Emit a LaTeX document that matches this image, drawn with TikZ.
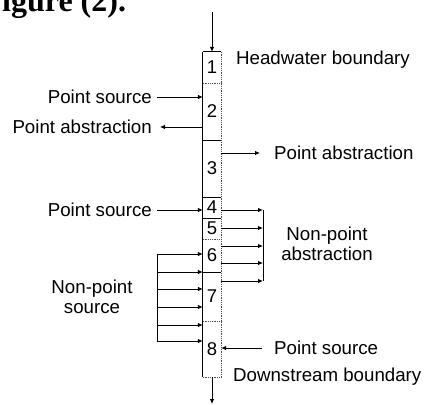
\documentclass[tikz,border=0pt]{standalone}
\usepackage{fontspec}
\setmainfont{Liberation Sans}
\newfontfamily\headfont{Liberation Serif}
\usetikzlibrary{arrows.meta}
\tikzset{
  lbl/.style={inner xsep=5pt,inner ysep=1pt,font=\fontsize{18.7}{20}\selectfont},
  cell/.style={minimum width=18pt,inner sep=0pt,font=\fontsize{18.5}{20}\selectfont},
  arr/.style={-{Latex[length=5pt,width=4.5pt]},line width=0.8pt},
  ln/.style={line width=0.8pt},
  sep/.style={line width=0.8pt,densely dotted,black!70}
}

\begin{document}
\begin{tikzpicture}[x=1pt,y=-1pt]
  \useasboundingbox (0,0) rectangle (424,405);
  \node[anchor=base west,inner sep=0pt,font=\headfont\bfseries\fontsize{32}{34}\selectfont] at(2,11)(fig){igure (2).};

  \node[cell,minimum height=31pt] at(212,67.5)(c1){1};
  \node[cell,minimum height=57pt] at(212,111.5)(c2){2};
  \node[cell,minimum height=57pt] at(212,168.5)(c3){3};
  \node[cell,minimum height=21pt] at(212,207.5)(c4){4};
  \node[cell,minimum height=21pt] at(212,228.5)(c5){5};
  \node[cell,minimum height=33pt] at(212,255.5)(c6){6};
  \node[cell,minimum height=49pt] at(212,296.5)(c7){7};
  \node[cell,minimum height=56pt] at(212,349)(c8){8};

  \draw [ln](c1.north west) -- (c8.south west);
  \draw [sep](c1.north east) -- (c8.south east);
  \draw [ln](c1.north west) -- (c1.north east);
  \draw [sep](c8.south west) -- (c8.south east);
  \draw [sep](c1.south west) -- (c1.south east);
  \draw [ln](c2.south west) -- (c2.south east);
  \draw [ln](c3.south west) -- (c3.south east);
  \draw [ln](c4.south west) -- (c4.south east);
  \draw [sep](c5.south west) -- (c5.south east);
  \draw [ln](c6.south west) -- (c6.south east);
  \draw [sep](c7.south west) -- (c7.south east);

  \coordinate (top) at (212,12);
  \coordinate (bot) at (212,404);
  \draw [arr](top) -- (c1.north);
  \draw [arr](c8.south) -- (bot);

  \node[lbl,anchor=west] at(231,60)(hw){Headwater boundary};
  \node[lbl,anchor=east] at(157,97)(ps1){Point source};
  \node[lbl,anchor=east] at(157,127)(pa1){Point abstraction};
  \node[lbl,anchor=west] at(269,153)(pa2){Point abstraction};
  \node[lbl,anchor=east] at(157,210)(ps2){Point source};
  \node[lbl,anchor=west] at(269,348)(ps3){Point source};
  \node[lbl,anchor=west] at(228,377)(ds){Downstream boundary};
  \node[lbl,align=center] at(327,244)(npa){Non-point\\abstraction};
  \node[lbl,align=center] at(92,297)(nps){Non-point\\source};

  \draw [arr](ps1.east) -- (ps1 -| c2.west);
  \draw [arr](pa1 -| c2.west) -- ([xshift=3pt]pa1.east);
  \draw [arr](pa2 -| c3.east) -- ([xshift=-9pt]pa2.west);
  \draw [arr](ps2.east) -- (ps2 -| c4.west);
  \draw [arr]([xshift=-7pt]ps3.west) -- (ps3 -| c8.east);

  \foreach \y [count=\i] in {210,228,246,263,281}
    \coordinate (na\i) at (263,\y);
  \foreach \i in {1,...,5}
    \draw [arr](c4.east |- na\i) -- (na\i);
  \draw [ln](na1) -- (na5);

  \foreach \y [count=\i] in {254,272,289,307,325,341}
    \coordinate (ns\i) at (157,\y);
  \foreach \i in {1,...,6}
    \draw [arr](ns\i) -- (ns\i -| c6.west);
  \draw [ln](ns1) -- (ns6);

\end{tikzpicture}
\end{document}
